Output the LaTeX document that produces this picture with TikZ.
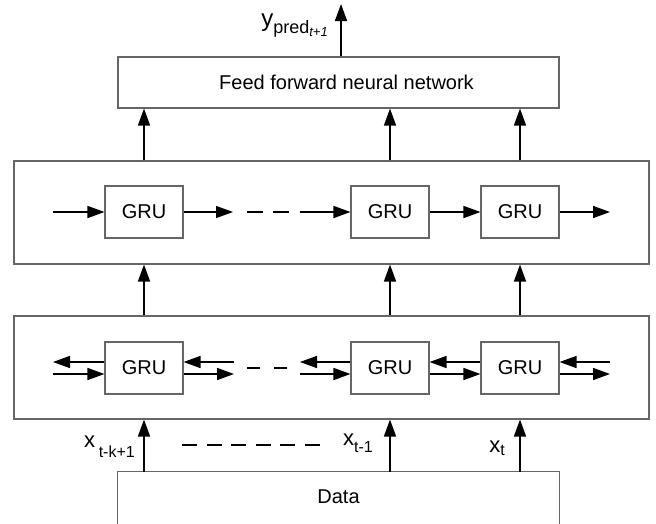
\documentclass[tikz,border=0pt]{standalone}
\usepackage{fontspec}
\setmainfont{Liberation Sans}
\usetikzlibrary{calc, positioning, arrows.meta}

\begin{document}
\begin{tikzpicture}[x=1pt, y=-1pt,
  box/.style={draw=black!60, line width=1.1pt, inner sep=0pt},
  gru/.style={box, minimum width=78pt, minimum height=52pt, font=\fontsize{20}{24}\selectfont},
  arr/.style={line width=1.6pt, -{Triangle[length=17pt, width=12pt]}},
  gap/.style={line width=1.6pt}
]
  \useasboundingbox (0,0) rectangle (656,523);

  % Feed forward output layer
  \node (ffnn) [box, minimum width=441pt, minimum height=51pt, font=\fontsize{20}{24}\selectfont] at (338.5,82.5) {\hspace{16pt}Feed forward neural network};
  \coordinate (yout) at (341,4);
  \draw[arr] (ffnn.north -| yout) -- (yout);
  \node (ylab) [anchor=base east, inner sep=0pt] at (328,26) {\fontsize{24}{24}\selectfont y\raisebox{-7pt}{\fontsize{18}{18}\selectfont pred\raisebox{-3pt}{\fontsize{13}{13}\selectfont\itshape t+1}}};

  % Forward GRU layer
  \node (top) [box, minimum width=635pt, minimum height=103pt] at (331.5,212.5) {};
  \foreach \n/\x in {1/144, 2/390, 3/520}
    \node (g2\n) [gru] at (\x,212) {GRU};
  \coordinate (q0) at (53,212);
  \coordinate (q1) at (233,212);
  \coordinate (q2) at (300,212);
  \coordinate (q3) at (610,212);
  \foreach \a/\b in {q0/g21, g21/q1, q2/g22, g22/g23, g23/q3}
    \draw[arr] (\a) -- (\b);
  \draw[gap, dash pattern=on 16pt off 10pt] (247,212) -- (289,212);

  % Bidirectional GRU layer
  \node (bot) [box, minimum width=635pt, minimum height=103pt] at (331.5,367.5) {};
  \foreach \n/\x in {1/144, 2/390, 3/520}
    \node (g1\n) [gru] at (\x,368) {GRU};
  \coordinate (p0) at (53,368);
  \coordinate (p1) at (234,368);
  \coordinate (p2) at (300,368);
  \coordinate (p3) at (610,368);
  \foreach \a/\b in {p0/g11, g11/p1, p2/g12, g12/g13, g13/p3} {
    \draw[arr] ([yshift=6pt]\b.west) -- ([yshift=6pt]\a.east);
    \draw[arr] ([yshift=-6pt]\a.east) -- ([yshift=-6pt]\b.west);
  }
  \draw[gap, dash pattern=on 13pt off 14pt] (247,368) -- (287,368);

  % Data block
  \node (data) [minimum width=441pt, minimum height=50pt, inner sep=0pt, font=\fontsize{20}{24}\selectfont] at (338.5,497) {Data};
  \draw[box] ($(data.north west)+(0,60)$) -- (data.north west) -- (data.north east) -- ($(data.north east)+(0,60)$);

  % Vertical connections
  \foreach \n in {1,2,3} {
    \draw[arr] (data.north -| g1\n) -- (bot.south -| g1\n);
    \draw[arr] (bot.north -| g1\n) -- (top.south -| g1\n);
    \draw[arr] (top.north -| g2\n) -- (ffnn.south -| g2\n);
  }

  % Input labels
  \node (xk) [anchor=base east, inner sep=0pt, font=\fontsize{22}{22}\selectfont] at (135,447) {x\,\raisebox{-10pt}{\fontsize{16}{16}\selectfont t-k+1}};
  \node (xt1) [anchor=base east, inner sep=0pt, font=\fontsize{22}{22}\selectfont] at (373,445) {x\raisebox{-7pt}{\fontsize{16}{16}\selectfont t-1}};
  \node (xt) [anchor=base east, inner sep=0pt, font=\fontsize{22}{22}\selectfont] at (505,452) {x\raisebox{-3pt}{\fontsize{16}{16}\selectfont t}};
  \coordinate (e1) at (182,445);
  \coordinate (e2) at (320,445);
  \draw[gap, dash pattern=on 15pt off 9.6pt] (e1) -- (e2);
\end{tikzpicture}
\end{document}
